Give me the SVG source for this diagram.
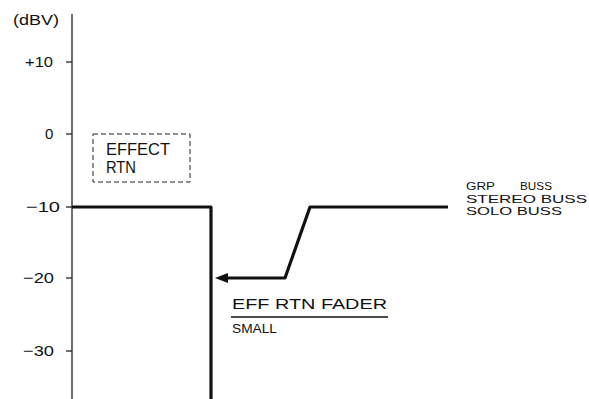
<svg xmlns="http://www.w3.org/2000/svg" width="589" height="399" viewBox="0 0 589 399">
<style>
text{font-family:"Liberation Sans",Arial,sans-serif;fill:#111}
.ax{font-size:15px}
.lbl{font-size:11px}
.thin{stroke:#222;stroke-width:1.3;fill:none}
.thick{stroke:#111;stroke-width:3.2;fill:none;stroke-linejoin:round}
</style>
<defs>
<marker id="ah" markerWidth="14" markerHeight="10" refX="2" refY="5" orient="auto" markerUnits="userSpaceOnUse">
<path d="M0,0 L13,5 L0,10 Z" fill="#111"/>
</marker>
</defs>
<rect width="589" height="399" fill="#fff"/>
<g id="axis">
<line class="thin" x1="72" y1="14" x2="72" y2="399"/>
<line class="thin" x1="66" y1="62" x2="72" y2="62"/>
<line class="thin" x1="66" y1="134" x2="72" y2="134"/>
<line class="thin" x1="66" y1="207" x2="72" y2="207"/>
<line class="thin" x1="66" y1="278" x2="72" y2="278"/>
<line class="thin" x1="66" y1="351" x2="72" y2="351"/>
<text class="ax" x="13" y="25" textLength="46" lengthAdjust="spacingAndGlyphs">(dBV)</text>
<text class="ax" x="25" y="67" textLength="28" lengthAdjust="spacingAndGlyphs">+10</text>
<text class="ax" x="45" y="139">0</text>
<text class="ax" x="26" y="212" textLength="34" lengthAdjust="spacingAndGlyphs">−10</text>
<text class="ax" x="23" y="283" textLength="31" lengthAdjust="spacingAndGlyphs">−20</text>
<text class="ax" x="23" y="356" textLength="31" lengthAdjust="spacingAndGlyphs">−30</text>
</g>
<g id="effect-rtn">
<rect x="93" y="134" width="97" height="48" fill="none" stroke="#222" stroke-width="1" stroke-dasharray="5,3"/>
<text x="106" y="155" font-size="16" textLength="64" lengthAdjust="spacingAndGlyphs">EFFECT</text>
<text x="106" y="173" font-size="16" textLength="30" lengthAdjust="spacingAndGlyphs">RTN</text>
</g>
<g id="busses">
<text class="lbl" x="466" y="190" textLength="29" lengthAdjust="spacingAndGlyphs">GRP</text>
<text class="lbl" x="520" y="190" textLength="32" lengthAdjust="spacingAndGlyphs">BUSS</text>
<text class="lbl" x="466" y="202.5" textLength="121" lengthAdjust="spacingAndGlyphs">STEREO BUSS</text>
<text class="lbl" x="466" y="215" textLength="96" lengthAdjust="spacingAndGlyphs">SOLO BUSS</text>
</g>
<g id="fader-label">
<text x="232" y="309" font-size="15" textLength="155" lengthAdjust="spacingAndGlyphs">EFF RTN FADER</text>
<line x1="231" y1="317" x2="388" y2="317" stroke="#111" stroke-width="1.3"/>
<text x="232" y="333" font-size="12" textLength="45" lengthAdjust="spacingAndGlyphs">SMALL</text>
</g>
<g id="connectors">
<path class="thick" d="M72,207 H211 V399"/>
<path class="thick" d="M448,207 H310 L285,278 H226" marker-end="url(#ah)"/>
</g>
</svg>
